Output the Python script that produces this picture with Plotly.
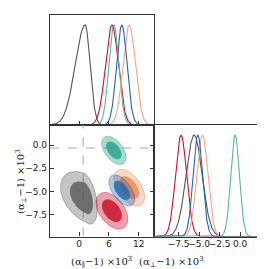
import numpy as np
import plotly.graph_objects as go

# ---- data (units: (alpha-1) x 10^3) ----
names = ["grey", "red", "teal", "orange", "blue"]
par_mode = [1.2, 6.6, 7.0, 10.1, 8.6]           # alpha_par peak
par_sig_left = [2.0, 1.3, 1.0, 1.25, 1.05]      # left width
par_sig_right = [1.0, 1.3, 1.0, 1.25, 1.05]     # right width
perp_mode = [-5.7, -7.1, -0.55, -4.6, -4.9]     # alpha_perp centre (2D)
perp_mode_1d = [-5.6, -7.2, -0.6, -4.6, -5.15]  # alpha_perp peak (1D)
perp_sig = [1.15, 0.8, 0.62, 0.8, 0.68]
corr = [-0.4, -0.45, -0.5, -0.5, -0.55]

x2_ticks = [0, 6, 12]
y2_ticks = [0.0, -2.5, -5.0, -7.5]
x3_ticks = [-7.5, -5.0, -2.5, 0.0]
ref_par = 0.8
ref_perp = -0.3

# ---- styles ----
line_cols = ["#555555", "#c8102e", "#5ab4ac", "#f4a582", "#2166ac"]
fill_rgb = [(80, 80, 80), (200, 20, 45), (40, 160, 140), (240, 120, 60), (33, 102, 172)]
outer_alpha = [0.33, 0.4, 0.4, 0.3, 0.35]
inner_alpha = [0.74, 0.85, 0.8, 0.7, 0.8]

r_levels = [2.49, 1.52]  # 95% and 68% 2D contours
x_range = [-5.9, 15.1]
y_range = [-9.9, 2.2]
perp_range = [-10.5, 2.13]


def fmt(v, nd):
    s = f"{abs(v):.{nd}f}"
    return ("\u2212" + s) if v < 0 else s


def split_gauss(x, m, sl, sr):
    s = np.where(x < m, sl, sr)
    return np.exp(-0.5 * ((x - m) / s) ** 2)


fig = go.Figure()

# 2D contours
t = np.linspace(0, 2 * np.pi, 200)
for i in range(len(names)):
    r, g, b = fill_rgb[i]
    for k, rr in enumerate(r_levels):
        a = rr * np.cos(t)
        c = rr * np.sin(t)
        u = a
        v = corr[i] * a + np.sqrt(1 - corr[i] ** 2) * c
        xs = par_mode[i] + np.where(u < 0, u * par_sig_left[i], u * par_sig_right[i])
        ys = perp_mode[i] + v * perp_sig[i]
        alpha = outer_alpha[i] if k == 0 else inner_alpha[i]
        fig.add_trace(go.Scatter(
            x=xs, y=ys, xaxis="x2", yaxis="y2", mode="lines", fill="toself",
            fillcolor=f"rgba({r},{g},{b},{alpha})",
            line=dict(color=f"rgba({r},{g},{b},0.5)", width=0.8),
            hoverinfo="skip", showlegend=False))

# 1D alpha_par
xp = np.linspace(x_range[0], x_range[1], 400)
for i in range(len(names)):
    fig.add_trace(go.Scatter(
        x=xp, y=split_gauss(xp, par_mode[i], par_sig_left[i], par_sig_right[i]),
        xaxis="x", yaxis="y", mode="lines",
        line=dict(color=line_cols[i], width=1.1), showlegend=False))

# 1D alpha_perp
xq = np.linspace(perp_range[0], perp_range[1], 400)
for i in range(len(names)):
    fig.add_trace(go.Scatter(
        x=xq, y=split_gauss(xq, perp_mode_1d[i], perp_sig[i] * 0.85, perp_sig[i] * 0.85),
        xaxis="x3", yaxis="y3", mode="lines",
        line=dict(color=line_cols[i], width=1.1), showlegend=False))

W, H = 265, 269
OFFX, OFFY = 8, 0  # observed page offset of the plot div


def px(p):
    return (p - OFFX) / W


def py(p):
    return 1 - (p - OFFY) / H


xl, xm, xr = px(50), px(154), px(257.5)
yb, ym, yt = py(228.5), py(117), py(7)

axcol = "#333333"
common = dict(showline=True, linecolor=axcol, linewidth=1.4, mirror=True,
              showgrid=False, zeroline=False, ticks="inside", ticklen=4,
              tickcolor=axcol, tickwidth=1, tickangle=0,
              tickfont=dict(family="DejaVu Sans", size=9, color="#222222"))
noticks = {k: v for k, v in common.items() if k != "ticks"}
nomirror = {k: v for k, v in common.items() if k != "mirror"}

title_font = dict(family="DejaVu Serif", size=10, color="#222222")

fig.update_layout(
    width=W, height=H, autosize=False,
    margin=dict(l=0, r=0, t=0, b=0),
    paper_bgcolor="white", plot_bgcolor="white",
    xaxis=dict(domain=[xl, xm], anchor="y", range=x_range, tickvals=x2_ticks,
               showticklabels=False, **common),
    yaxis=dict(domain=[ym, yt], anchor="x", range=[0, 1.1], showticklabels=False,
               ticks="", **noticks),
    xaxis2=dict(domain=[xl, xm], anchor="y2", range=x_range, tickvals=x2_ticks,
                ticktext=[fmt(v, 0) for v in x2_ticks],
                ticklabelstandoff=-2, **common),
    yaxis2=dict(domain=[yb, ym], anchor="x2", range=y_range, tickvals=y2_ticks,
                ticktext=[fmt(v, 1) for v in y2_ticks], mirror="allticks", **nomirror),
    xaxis3=dict(domain=[xm, xr], anchor="y3", range=perp_range, tickvals=x3_ticks,
                ticktext=[fmt(v, 1) for v in x3_ticks], ticklabelstandoff=-2, **common),
    yaxis3=dict(domain=[yb, ym], anchor="x3", range=[0, 1.1], showticklabels=False,
                ticks="", **noticks),
    shapes=[
        dict(type="line", xref="x2", yref="y2", x0=ref_par, x1=ref_par,
             y0=y_range[0], y1=y_range[1], line=dict(color="#aaaaaa", width=1, dash="dash"),
             layer="below"),
        dict(type="line", xref="x2", yref="y2", x0=x_range[0], x1=x_range[1],
             y0=ref_perp, y1=ref_perp, line=dict(color="#aaaaaa", width=1, dash="dash"),
             layer="below"),
    ],
    annotations=[
        dict(text="(α<sub>∥</sub>−1) ×10<sup>3</sup>", xref="paper", yref="paper",
             x=px(101), y=py(245), yanchor="top", showarrow=False, font=title_font),
        dict(text="(α<sub>⊥</sub>−1) ×10<sup>3</sup>", xref="paper", yref="paper",
             x=px(206), y=py(245), yanchor="top", showarrow=False, font=title_font),
        dict(text="(α<sub>⊥</sub>−1) ×10<sup>3</sup>", xref="paper", yref="paper",
             x=px(12), y=py(174), showarrow=False, textangle=-90, font=title_font),
    ],
)

fig.write_html("out.html")
